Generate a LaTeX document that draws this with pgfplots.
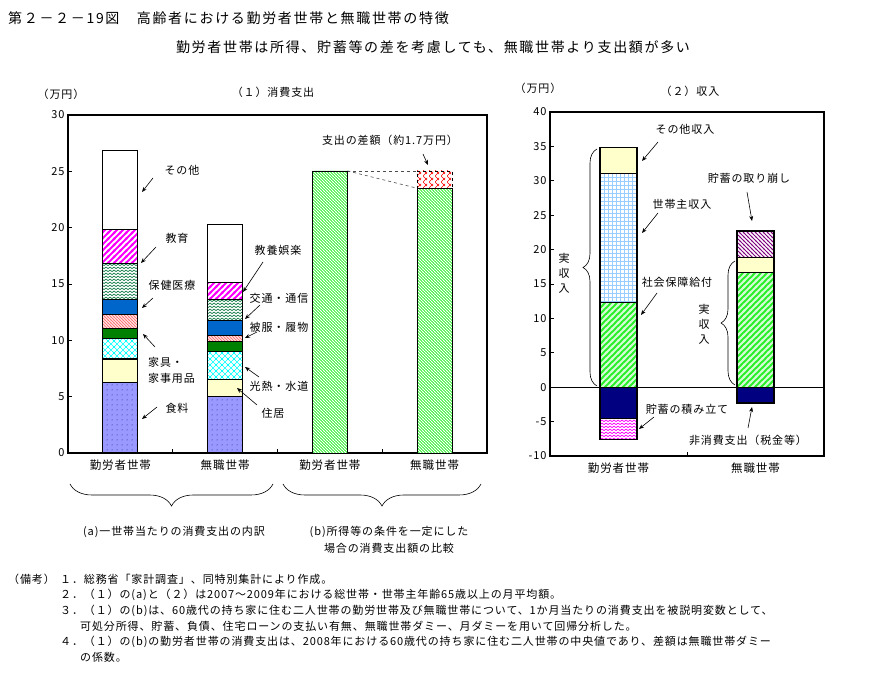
\documentclass[border=0pt]{standalone}
\usepackage{fontspec}
\setmainfont{Noto Sans CJK JP}[LetterSpace=8]
\newfontfamily\titlefont{Noto Sans CJK JP}[LetterSpace=12]
\usepackage{pgfplots}
\pgfplotsset{compat=1.18}
\usetikzlibrary{patterns,decorations.pathreplacing,arrows.meta}

\definecolor{cfood}{RGB}{153,153,255}
\definecolor{ccream}{RGB}{255,255,204}
\definecolor{cdkgreen}{RGB}{0,128,0}
\definecolor{cblue}{RGB}{0,102,204}
\definecolor{cwave}{RGB}{30,130,80}
\definecolor{csalmon}{RGB}{255,120,120}
\definecolor{clime}{RGB}{40,240,40}
\definecolor{cnavy}{RGB}{0,0,128}
\definecolor{cgrid}{RGB}{153,204,255}
\definecolor{cpurple}{RGB}{128,0,128}
\definecolor{cmag}{RGB}{255,0,255}

% patterns
\pgfdeclarepatternformonly{pNE6}{\pgfqpoint{-1pt}{-1pt}}{\pgfqpoint{7pt}{7pt}}{\pgfqpoint{6pt}{6pt}}{%
 \pgfsetlinewidth{1.8pt}%
 \pgfpathmoveto{\pgfqpoint{-1pt}{-1pt}}\pgfpathlineto{\pgfqpoint{7pt}{7pt}}%
 \pgfpathmoveto{\pgfqpoint{-1pt}{5pt}}\pgfpathlineto{\pgfqpoint{1pt}{7pt}}%
 \pgfpathmoveto{\pgfqpoint{5pt}{-1pt}}\pgfpathlineto{\pgfqpoint{7pt}{1pt}}%
 \pgfusepath{stroke}}
\pgfdeclarepatternformonly{pNW3}{\pgfqpoint{-1pt}{-1pt}}{\pgfqpoint{4pt}{4pt}}{\pgfqpoint{3pt}{3pt}}{%
 \pgfsetlinewidth{0.8pt}%
 \pgfpathmoveto{\pgfqpoint{-1pt}{4pt}}\pgfpathlineto{\pgfqpoint{4pt}{-1pt}}%
 \pgfusepath{stroke}}
\pgfdeclarepatternformonly{pNW4}{\pgfqpoint{-1pt}{-1pt}}{\pgfqpoint{5pt}{5pt}}{\pgfqpoint{4pt}{4pt}}{%
 \pgfsetlinewidth{0.8pt}%
 \pgfpathmoveto{\pgfqpoint{-1pt}{5pt}}\pgfpathlineto{\pgfqpoint{5pt}{-1pt}}%
 \pgfusepath{stroke}}
\pgfdeclarepatternformonly{pWaves}{\pgfqpoint{-0.5pt}{-0.5pt}}{\pgfqpoint{4.5pt}{3.5pt}}{\pgfqpoint{4pt}{3pt}}{%
 \pgfsetlinewidth{0.75pt}%
 \pgfpathmoveto{\pgfqpoint{0pt}{0.4pt}}\pgfpathlineto{\pgfqpoint{2pt}{1.9pt}}\pgfpathlineto{\pgfqpoint{4pt}{0.4pt}}%
 \pgfusepath{stroke}}
\pgfdeclarepatternformonly{pDots}{\pgfqpoint{0pt}{0pt}}{\pgfqpoint{5pt}{5pt}}{\pgfqpoint{5pt}{5pt}}{%
 \pgfpathcircle{\pgfqpoint{2.5pt}{2.5pt}}{0.55pt}\pgfusepath{fill}}
\pgfdeclarepatternformonly{pGrid}{\pgfqpoint{-0.5pt}{-0.5pt}}{\pgfqpoint{4.5pt}{4.5pt}}{\pgfqpoint{4pt}{4pt}}{%
 \pgfsetlinewidth{0.6pt}%
 \pgfpathmoveto{\pgfqpoint{0pt}{-0.5pt}}\pgfpathlineto{\pgfqpoint{0pt}{4.5pt}}%
 \pgfpathmoveto{\pgfqpoint{-0.5pt}{0pt}}\pgfpathlineto{\pgfqpoint{4.5pt}{0pt}}%
 \pgfusepath{stroke}}
\pgfdeclarepatternformonly{pX6}{\pgfqpoint{-1pt}{-1pt}}{\pgfqpoint{7pt}{7pt}}{\pgfqpoint{6pt}{6pt}}{%
 \pgfsetlinewidth{0.6pt}%
 \pgfpathmoveto{\pgfqpoint{-1pt}{-1pt}}\pgfpathlineto{\pgfqpoint{7pt}{7pt}}%
 \pgfpathmoveto{\pgfqpoint{-1pt}{7pt}}\pgfpathlineto{\pgfqpoint{7pt}{-1pt}}%
 \pgfusepath{stroke}}

\pgfplotsset{
  chartbase/.style={
    scale only axis,
    axis line style={line width=1.4pt},
    tick style={black, line width=0.6pt},
    major tick length=4pt, minor tick length=4pt,
    tick align=inside, ytick pos=left, xtick pos=bottom,
    major x tick style={draw=none},
    /pgf/number format/assume math mode=true,
    yticklabel style={font=\fontsize{11}{13}\selectfont},
    xticklabel style={font=\fontsize{11.5}{13}\selectfont, yshift=-3pt},
    ybar stacked,
  },
  seg/.style={draw=black, line width=1.1pt},
}

\begin{document}
\begin{tikzpicture}
\path[use as bounding box] (0pt,0pt) rectangle (875pt,677pt);

% ---------------- Left chart ----------------
\begin{axis}[chartbase,
  at={(68pt,224pt)}, anchor=south west, width=419pt, height=338pt,
  xmin=-0.5, xmax=3.5, ymin=0, ymax=30, ytick={0,5,...,30},
  xtick={0,1,2,3}, xticklabels={勤労者世帯,無職世帯,勤労者世帯,無職世帯},
  minor xtick={0.5,1.5,2.5},
  bar width=35pt]
\addplot[seg, fill=cfood, postaction={pattern color=cnavy, pattern=pDots}] coordinates {(0,6.27) (1,5.03) (2,0) (3,0)};
\addplot[seg, fill=ccream] coordinates {(0,2.07) (1,1.53) (2,0) (3,0)};
\addplot[seg, fill=white, postaction={pattern color=cyan, pattern=pX6}] coordinates {(0,1.86) (1,2.46) (2,0) (3,0)};
\addplot[seg, fill=cdkgreen] coordinates {(0,0.88) (1,0.85) (2,0) (3,0)};
\addplot[seg, fill=white, postaction={pattern color=csalmon, pattern=pNW3}] coordinates {(0,1.19) (1,0.53) (2,0) (3,0)};
\addplot[seg, fill=cblue] coordinates {(0,1.33) (1,1.36) (2,0) (3,0)};
\addplot[seg, fill=white, postaction={pattern color=cwave, pattern=pWaves}] coordinates {(0,3.19) (1,1.84) (2,0) (3,0)};
\addplot[seg, fill=white, postaction={pattern color=cmag, pattern=pNE6}] coordinates {(0,3.01) (1,1.53) (2,0) (3,0)};
\addplot[seg, fill=white] coordinates {(0,7.01) (1,5.18) (2,0) (3,0)};
\addplot[draw=black, line width=0.6pt, fill=clime, postaction={pattern color=white, pattern=pNW3}] coordinates {(0,0) (1,0) (2,25.04) (3,23.5)};
\addplot[draw=black, dashed, line width=0.6pt, fill=white, postaction={pattern color=red, pattern=pX6}] coordinates {(0,0) (1,0) (2,0) (3,1.54)};
\draw[dashed, line width=0.6pt, black!70] (axis cs:2.167,25.04) -- (axis cs:2.833,25.04);
\draw[dashed, line width=0.6pt, black!70] (axis cs:2.167,25.04) -- (axis cs:2.833,23.5);
\end{axis}

% ---------------- Right chart ----------------
\begin{axis}[chartbase,
  at={(550pt,221pt)}, anchor=south west, width=274pt, height=344pt,
  xmin=-0.5, xmax=1.5, ymin=-10, ymax=40, ytick={-10,-5,...,40},
  xtick={0,1}, xticklabels={勤労者世帯,無職世帯},
  minor xtick={0.5},
  bar width=37pt]
\addplot[seg, fill=cnavy] coordinates {(0,-4.5) (1,-2.3)};
\addplot[seg, fill=white, postaction={pattern color=cmag, pattern=pWaves}] coordinates {(0,-3.16) (1,0)};
\addplot[seg, fill=clime, postaction={pattern color=white!80!clime, pattern=pNE6}] coordinates {(0,12.3) (1,16.7)};
\addplot[seg, fill=white, postaction={pattern color=cgrid, pattern=pGrid}] coordinates {(0,18.7) (1,0)};
\addplot[seg, fill=ccream] coordinates {(0,3.8) (1,2.1)};
\addplot[seg, fill=white, postaction={pattern color=cpurple, pattern=pNW4}] coordinates {(0,0) (1,3.9)};
\draw[line width=0.6pt] (axis cs:-0.5,0) -- (axis cs:1.5,0);
\end{axis}

\begin{scope}[x=1pt, y=-1pt, yshift=677pt]
% ---------------- Titles ----------------
\node[anchor=west, inner sep=0, font=\titlefont\fontsize{14}{16}\selectfont] at (8,18) {第２－２－19図　高齢者における勤労者世帯と無職世帯の特徴};
\node[inner sep=0, font=\titlefont\fontsize{14}{16}\selectfont] at (433,47) {勤労者世帯は所得、貯蓄等の差を考慮しても、無職世帯より支出額が多い};

\begin{scope}[every node/.style={inner sep=0, font=\fontsize{11}{15}\selectfont}]
\node at (61,94) {（万円）};
\node at (273,92) {（１）消費支出};
\node at (538,88) {（万円）};
\node at (690,91) {（２）収入};

% left annotations
\node at (182,170) {その他};
\node at (177,238) {教育};
\node at (172,285) {保健医療};
\node[anchor=west] at (148,362) {家具・};
\node[anchor=west] at (148,378) {家事用品};
\node at (177,408) {食料};
\node at (278,250) {教養娯楽};
\node at (279,298) {交通・通信};
\node at (279,327) {被服・履物};
\node at (279,386) {光熱・水道};
\node at (273,413) {住居};
\node at (390,140) {支出の差額（約1.7万円）};

% right annotations
\node at (685,129) {その他収入};
\node at (682,204) {世帯主収入};
\node at (677,282) {社会保障給付};
\node at (749,178) {貯蓄の取り崩し};
\node at (687,409) {貯蓄の積み立て};
\node at (748,440) {非消費支出（税金等）};
\node[align=center] at (564,273) {実\\収\\入};
\node[align=center] at (704,324) {実\\収\\入};

% bottom labels
\node at (174,532) {(a)一世帯当たりの消費支出の内訳};
\node at (389,532) {(b)所得等の条件を一定にした};
\node at (389,548) {場合の消費支出額の比較};
\end{scope}

% arrows
\begin{scope}[-{Stealth[length=5pt,width=4pt]}, line width=0.6pt]
\draw (153,178) -- (142,192);
\draw (156,247) -- (141,263);
\draw (153,298) -- (142,308);
\draw (155,347) -- (143,334);
\draw (157,407) -- (142,419);
\draw (263,262) -- (243,292);
\draw (260,305) -- (245,319);
\draw (257,332) -- (245,338);
\draw (259,377) -- (245,367);
\draw (257,405) -- (237,388);
\draw (423,154) -- (428,165);
\draw (658,142) -- (642,161);
\draw (658,213) -- (642,233);
\draw (657,293) -- (641,315);
\draw (747,192) -- (752,221);
\draw (654,417) -- (639,429);
\draw (748,428) -- (752,407);
\end{scope}

% braces
\draw[line width=0.6pt, decorate, decoration={brace, mirror, amplitude=22pt}] (70,484) -- (273,484);
\draw[line width=0.6pt, decorate, decoration={brace, mirror, amplitude=22pt}] (283,484) -- (481,484);
\draw[line width=0.6pt, decorate, decoration={brace, amplitude=14pt}] (597,386) -- (597,149);
\draw[line width=0.6pt, decorate, decoration={brace, amplitude=14pt}] (735,385) -- (735,261);

% notes
\begin{scope}[every node/.style={anchor=west, inner sep=0, font=\fontsize{11}{12}\selectfont}]
\node at (8,579) {（備考）};
\node at (60,579) {１．総務省「家計調査」、同特別集計により作成。};
\node at (60,595) {２．（１）の(a)と（２）は2007～2009年における総世帯・世帯主年齢65歳以上の月平均額。};
\node at (60,611) {３．（１）の(b)は、60歳代の持ち家に住む二人世帯の勤労世帯及び無職世帯について、1か月当たりの消費支出を被説明変数として、};
\node at (80,626) {可処分所得、貯蓄、負債、住宅ローンの支払い有無、無職世帯ダミー、月ダミーを用いて回帰分析した。};
\node at (60,642) {４．（１）の(b)の勤労者世帯の消費支出は、2008年における60歳代の持ち家に住む二人世帯の中央値であり、差額は無職世帯ダミー};
\node at (80,657) {の係数。};
\end{scope}
\end{scope}
\end{tikzpicture}
\end{document}
